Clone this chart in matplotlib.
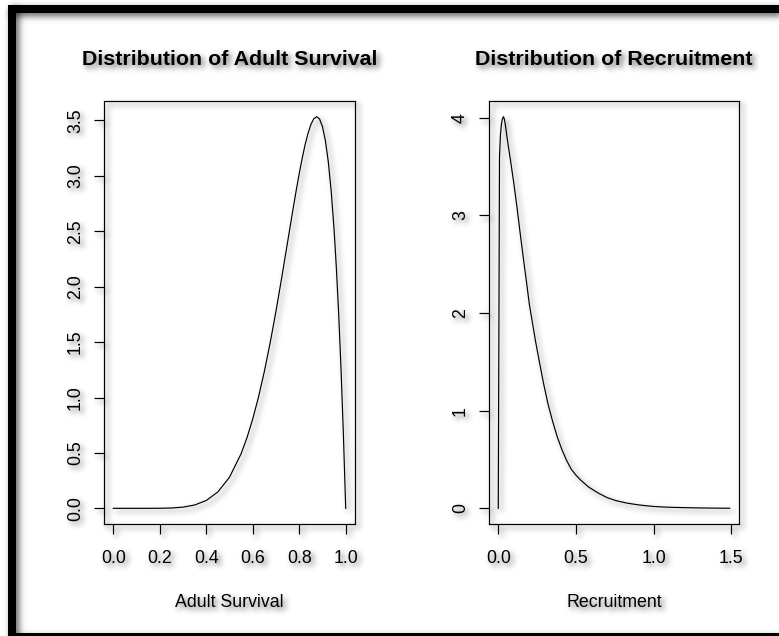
import numpy as np
import matplotlib
matplotlib.use("Agg")
import matplotlib.pyplot as plt
from matplotlib.patches import Rectangle
from matplotlib.ticker import FixedLocator, FormatStrFormatter

# ---- density curves -------------------------------------------------------
surv_x = [0.0, 0.05, 0.10, 0.15, 0.20, 0.25, 0.30, 0.35, 0.40, 0.45, 0.50,
          0.55, 0.575, 0.60, 0.625, 0.65, 0.675, 0.70, 0.725, 0.75, 0.775,
          0.7875, 0.80, 0.8125, 0.825, 0.8375, 0.85, 0.8625, 0.875, 0.8875,
          0.90, 0.9125, 0.925, 0.9375, 0.95, 0.96, 0.97, 0.98, 0.99, 1.00]
surv_y = [0.0, 0.0, 0.0, 0.0001, 0.0007, 0.003, 0.011, 0.030, 0.071, 0.148,
          0.281, 0.493, 0.636, 0.806, 1.006, 1.235, 1.494, 1.779, 2.085,
          2.403, 2.720, 2.874, 3.020, 3.155, 3.278, 3.381, 3.462, 3.515,
          3.534, 3.513, 3.444, 3.319, 3.129, 2.864, 2.514, 2.164, 1.745,
          1.250, 0.671, 0.0]

recr_x = [0.0, 0.008, 0.014, 0.020, 0.027, 0.034, 0.040, 0.047, 0.06, 0.08,
          0.10, 0.12, 0.14, 0.16, 0.18, 0.20, 0.22, 0.24, 0.26, 0.29, 0.32,
          0.35, 0.38, 0.41, 0.44, 0.47, 0.50, 0.53, 0.58, 0.64, 0.70, 0.76,
          0.83, 0.90, 0.96, 1.02, 1.10, 1.20, 1.30, 1.40, 1.49]
recr_y = [0.0, 3.60, 3.82, 3.93, 3.99, 4.01, 3.98, 3.91, 3.76, 3.55, 3.33,
          3.09, 2.83, 2.58, 2.34, 2.09, 1.90, 1.71, 1.54, 1.29, 1.07, 0.89,
          0.73, 0.60, 0.49, 0.40, 0.34, 0.29, 0.22, 0.16, 0.11, 0.078, 0.053,
          0.036, 0.025, 0.017, 0.011, 0.007, 0.004, 0.002, 0.001]

titles = ["Distribution of Adult Survival", "Distribution of Recruitment"]
xlabels = ["Adult Survival", "Recruitment"]

surv_xticks = [0.0, 0.2, 0.4, 0.6, 0.8, 1.0]
surv_yticks = [0.0, 0.5, 1.0, 1.5, 2.0, 2.5, 3.0, 3.5]
recr_xticks = [0.0, 0.5, 1.0, 1.5]
recr_yticks = [0, 1, 2, 3, 4]


# ---- soft drop shadow drawn behind every artist it is attached to ----------
def _blur(a, sigma, r):
    k = np.exp(-0.5 * (np.arange(-r, r + 1) / sigma) ** 2)
    k /= k.sum()
    h, w = a.shape
    ap = np.pad(a, ((0, 0), (r, r)))
    tmp = np.zeros_like(a)
    for i, wt in enumerate(k):
        tmp += wt * ap[:, i:i + w]
    ap = np.pad(tmp, ((r, r), (0, 0)))
    out = np.zeros_like(a)
    for i, wt in enumerate(k):
        out += wt * ap[i:i + h, :]
    return out


class DropShadow:
    def __init__(self, sigma=3.0, offset=3, strength=0.6, shade=0.0):
        self.sigma = sigma
        self.offset = offset
        self.strength = strength
        self.shade = shade

    def __call__(self, im, dpi):
        r = int(3 * self.sigma) + 1
        pad = r + self.offset + 1
        p = np.pad(im, ((pad, pad), (pad, pad), (0, 0)))
        a = p[..., 3]
        s = np.roll(np.roll(a, self.offset, axis=0), self.offset, axis=1)
        s = _blur(s, self.sigma, r) * self.strength
        a0 = a[..., None]
        s = s[..., None]
        oa = a0 + s * (1 - a0)
        rgb = (p[..., :3] * a0 + self.shade * s * (1 - a0)) / np.maximum(oa, 1e-6)
        out = np.concatenate([rgb, oa], axis=-1)
        return np.clip(out, 0, 1), -pad, -pad


def r_limits(v):
    lo, hi = min(v), max(v)
    d = (hi - lo) * 0.04
    return lo - d, hi + d


plt.rcParams["font.family"] = ["Liberation Sans", "DejaVu Sans"]

W, H = 779, 636
fig = plt.figure(figsize=(W / 100, H / 100), dpi=100)
fig.patch.set_facecolor("white")

# outer black frame (top, left, bottom)
frame = [
    Rectangle((8 / W, 1 - 13 / H), 1 - 8 / W + 0.02, 8 / H),
    Rectangle((8 / W, -0.02), 8 / W, 1 - 5 / H + 0.02),
    Rectangle((8 / W, -0.02), 1, 0.02 + 3.5 / H),
]
for rect in frame:
    rect.set_transform(fig.transFigure)
    rect.set_facecolor("black")
    rect.set_edgecolor("none")
    rect.set_agg_filter(DropShadow(sigma=3.5, offset=3, strength=0.65))
    fig.add_artist(rect)

panels = [
    dict(rect=[104 / W, 1 - 524 / H, 251 / W, 423 / H], x=surv_x, y=surv_y,
         xt=surv_xticks, yt=surv_yticks, xfmt="%.1f", yfmt="%.1f"),
    dict(rect=[489 / W, 1 - 524 / H, 250 / W, 423 / H], x=recr_x, y=recr_y,
         xt=recr_xticks, yt=recr_yticks, xfmt="%.1f", yfmt="%d"),
]

for i, pn in enumerate(panels):
    ax = fig.add_axes(pn["rect"])
    ax.patch.set_facecolor("none")
    ax.plot(pn["x"], pn["y"], color="black", lw=0.85)
    ax.set_xlim(*r_limits(pn["x"]))
    ax.set_ylim(*r_limits(pn["y"]))
    ax.xaxis.set_major_locator(FixedLocator(pn["xt"]))
    ax.yaxis.set_major_locator(FixedLocator(pn["yt"]))
    ax.xaxis.set_major_formatter(FormatStrFormatter(pn["xfmt"]))
    ax.yaxis.set_major_formatter(FormatStrFormatter(pn["yfmt"]))
    for sp in ax.spines.values():
        sp.set_linewidth(0.85)
        sp.set_color("black")
    ax.tick_params(direction="out", length=7.4, width=0.85, colors="black",
                   labelsize=12.8)
    ax.tick_params(axis="x", pad=11.5)
    ax.tick_params(axis="y", pad=7.0, labelrotation=90)
    for lbl in ax.get_yticklabels():
        lbl.set_va("center")
    ax.set_title(titles[i], fontsize=15.4, fontweight="bold", pad=26.0)
    ax.set_xlabel(xlabels[i], fontsize=12.8, labelpad=19.0)
    ax.set_agg_filter(DropShadow(sigma=3.0, offset=3, strength=0.6))

fig.savefig("out.png", dpi=100, facecolor="white")
